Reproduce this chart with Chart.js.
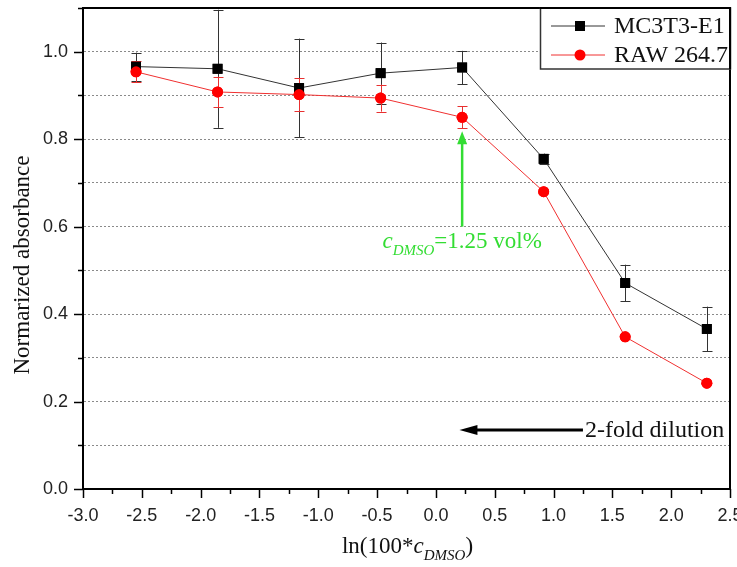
<!DOCTYPE html>
<html>
<head>
<meta charset="utf-8">
<script src="https://cdn.jsdelivr.net/npm/chart.js@4.4.1/dist/chart.umd.min.js"></script>
<style>
  html, body { margin: 0; padding: 0; background: #ffffff; }
  #wrap { width: 737px; height: 567px; }
</style>
</head>
<body>
<div id="wrap"><canvas id="absChart" width="737" height="567"></canvas></div>
<script>
// ln(100 * c_DMSO) for a 2-fold dilution series
const xValues = [-2.549, -1.856, -1.163, -0.470, 0.223, 0.916, 1.609, 2.303];

const mc3t3Values = [0.966, 0.961, 0.917, 0.951, 0.964, 0.755, 0.471, 0.366];
const mc3t3Errors = [0.032, 0.135, 0.113, 0.070, 0.038, 0.012, 0.042, 0.051];

const rawValues = [0.954, 0.908, 0.902, 0.894, 0.850, 0.680, 0.348, 0.242];
const rawErrors = [0.024, 0.035, 0.037, 0.031, 0.025, 0.006, 0.005, 0.004];

const seriesLabels = ["MC3T3-E1", "RAW 264.7"];

const xMajorStep = 0.5;
const yMajorStep = 0.2;

// annotation anchors (data units)
const markedX = 0.223;
const markedArrowFrom = 0.60;
const markedArrowTo = 0.818;
const markedTextY = 0.551;
const dilutionY = 0.135;
const dilutionFrom = 1.25;
const dilutionTo = 0.20;

const SERIF = "'Liberation Serif', 'DejaVu Serif', serif";
const SANS = "'Liberation Sans', Arial, sans-serif";

function isMultiple(v, step) {
    const r = v / step;
    return Math.abs(r - Math.round(r)) < 1e-6;
}

function toPoints(xs, ys) {
    return xs.map((x, i) => ({ x: x, y: ys[i] }));
}

// draws text pieces (normal / italic / subscript) centred on cx
function drawSubscripted(ctx, parts, cx, baseY, size) {
    const fonts = {
        normal: size + "px " + SERIF,
        italic: "italic " + size + "px " + SERIF,
        sub: "italic " + Math.round(size * 0.64) + "px " + SERIF
    };
    const widths = parts.map(p => {
        ctx.font = fonts[p.style];
        return ctx.measureText(p.text).width;
    });
    let x = cx - widths.reduce((a, b) => a + b, 0) / 2;
    ctx.textAlign = "left";
    ctx.textBaseline = "alphabetic";
    parts.forEach((p, i) => {
        ctx.font = fonts[p.style];
        ctx.fillText(p.text, x, p.style === "sub" ? baseY + size * 0.3 : baseY);
        x += widths[i];
    });
}

const decorPlugin = {
    id: "decor",
    afterDatasetsDraw(chart) {
        const ctx = chart.ctx;
        const xs = chart.scales.x;
        const ys = chart.scales.y;
        const area = chart.chartArea;

        // error bars
        const bars = [
            { values: mc3t3Values, errors: mc3t3Errors, color: "#333333" },
            { values: rawValues, errors: rawErrors, color: "#e83030" }
        ];
        ctx.save();
        ctx.lineWidth = 1;
        bars.forEach(set => {
            ctx.strokeStyle = set.color;
            set.values.forEach((v, i) => {
                if (set.errors[i] < 0.008) return;
                const px = Math.round(xs.getPixelForValue(xValues[i])) + 0.5;
                const top = Math.max(area.top, ys.getPixelForValue(v + set.errors[i]));
                const bot = ys.getPixelForValue(v - set.errors[i]);
                ctx.beginPath();
                ctx.moveTo(px, top);
                ctx.lineTo(px, bot);
                ctx.moveTo(px - 5, Math.round(top) + 0.5);
                ctx.lineTo(px + 5, Math.round(top) + 0.5);
                ctx.moveTo(px - 5, Math.round(bot) + 0.5);
                ctx.lineTo(px + 5, Math.round(bot) + 0.5);
                ctx.stroke();
            });
        });
        ctx.restore();

        // redraw markers on top of the bars
        chart.getSortedVisibleDatasetMetas().forEach(meta => {
            meta.data.forEach(el => el.draw(ctx, area));
        });
    },
    afterDraw(chart) {
        const ctx = chart.ctx;
        const xs = chart.scales.x;
        const ys = chart.scales.y;
        const area = chart.chartArea;

        ctx.save();
        ctx.setLineDash([]);

        // frame: left, bottom, top and right (solid)
        ctx.strokeStyle = "#000000";
        ctx.lineWidth = 2;
        ctx.strokeRect(area.left, area.top, area.right - area.left, area.bottom - area.top);

        // tick marks (outward), major and minor
        ctx.lineWidth = 1.5;
        ys.ticks.forEach(t => {
            const py = Math.round(ys.getPixelForValue(t.value)) + 0.5;
            const len = isMultiple(t.value, yMajorStep) ? 9 : 5;
            ctx.beginPath();
            ctx.moveTo(area.left - len, py);
            ctx.lineTo(area.left, py);
            ctx.stroke();
        });
        xs.ticks.forEach(t => {
            const px = Math.round(xs.getPixelForValue(t.value)) + 0.5;
            const len = isMultiple(t.value, xMajorStep) ? 9 : 5;
            ctx.beginPath();
            ctx.moveTo(px, area.bottom);
            ctx.lineTo(px, area.bottom + len);
            ctx.stroke();
        });

        // y axis title
        ctx.save();
        ctx.translate(23, 265);
        ctx.rotate(-Math.PI / 2);
        ctx.fillStyle = "#111111";
        ctx.font = "23px " + SERIF;
        ctx.textAlign = "center";
        ctx.textBaseline = "middle";
        ctx.fillText("Normarized absorbance", 0, 0);
        ctx.restore();

        // x axis title with subscript
        ctx.fillStyle = "#111111";
        drawSubscripted(ctx, [
            { text: "ln(100*", style: "normal" },
            { text: "c", style: "italic" },
            { text: "DMSO", style: "sub" },
            { text: ")", style: "normal" }
        ], (area.left + area.right) / 2 + 1, 553, 23);

        // green marker arrow + label
        const gx = xs.getPixelForValue(markedX);
        const gy0 = ys.getPixelForValue(markedArrowFrom);
        const gy1 = ys.getPixelForValue(markedArrowTo);
        ctx.strokeStyle = "#33dd33";
        ctx.fillStyle = "#33dd33";
        ctx.lineWidth = 2.5;
        ctx.beginPath();
        ctx.moveTo(gx, gy0);
        ctx.lineTo(gx, gy1 + 10);
        ctx.stroke();
        ctx.beginPath();
        ctx.moveTo(gx, gy1);
        ctx.lineTo(gx - 5, gy1 + 13);
        ctx.lineTo(gx + 5, gy1 + 13);
        ctx.closePath();
        ctx.fill();

        drawSubscripted(ctx, [
            { text: "c", style: "italic" },
            { text: "DMSO", style: "sub" },
            { text: "=1.25 vol%", style: "normal" }
        ], gx, ys.getPixelForValue(markedTextY), 23);

        // dilution arrow
        const dy = ys.getPixelForValue(dilutionY);
        const dx0 = xs.getPixelForValue(dilutionFrom);
        const dx1 = xs.getPixelForValue(dilutionTo);
        ctx.strokeStyle = "#000000";
        ctx.fillStyle = "#000000";
        ctx.lineWidth = 3;
        ctx.beginPath();
        ctx.moveTo(dx0, dy);
        ctx.lineTo(dx1 + 12, dy);
        ctx.stroke();
        ctx.beginPath();
        ctx.moveTo(dx1, dy);
        ctx.lineTo(dx1 + 18, dy - 5);
        ctx.lineTo(dx1 + 18, dy + 5);
        ctx.closePath();
        ctx.fill();
        ctx.fillStyle = "#111111";
        ctx.font = "24px " + SERIF;
        ctx.textAlign = "left";
        ctx.textBaseline = "middle";
        ctx.fillText("2-fold dilution", dx0 + 2, dy + 1);

        // legend box in the top right corner
        const lw = 190;
        const lx = area.right - lw;
        const ly = area.top;
        ctx.fillStyle = "#ffffff";
        ctx.fillRect(lx, ly, lw, 61);
        ctx.strokeStyle = "#333333";
        ctx.lineWidth = 1.5;
        ctx.strokeRect(lx + 0.5, ly, lw, 61);

        const metas = chart.getSortedVisibleDatasetMetas();
        metas.forEach((meta, i) => {
            const ds = chart.data.datasets[meta.index];
            const rowY = ly + 18 + i * 29;
            ctx.strokeStyle = ds.borderColor;
            ctx.lineWidth = 1;
            ctx.beginPath();
            ctx.moveTo(lx + 11, rowY);
            ctx.lineTo(lx + 65, rowY);
            ctx.stroke();
            ctx.fillStyle = ds.pointBackgroundColor;
            if (ds.pointStyle === "rect") {
                ctx.fillRect(lx + 40 - 5, rowY - 5, 10, 10);
            } else {
                ctx.beginPath();
                ctx.arc(lx + 40, rowY, 5.5, 0, Math.PI * 2);
                ctx.fill();
            }
            ctx.fillStyle = "#111111";
            ctx.font = "24px " + SERIF;
            ctx.textAlign = "left";
            ctx.textBaseline = "middle";
            ctx.fillText(ds.label, lx + 74, rowY + 1);
        });

        // redraw top/right frame over the legend edge
        ctx.strokeStyle = "#000000";
        ctx.lineWidth = 2;
        ctx.beginPath();
        ctx.moveTo(lx, area.top);
        ctx.lineTo(area.right, area.top);
        ctx.lineTo(area.right, area.top + 61);
        ctx.stroke();

        ctx.restore();
    }
};

const chart = new Chart(document.getElementById("absChart"), {
    type: "scatter",
    data: {
        datasets: [
            {
                label: seriesLabels[0],
                data: toPoints(xValues, mc3t3Values),
                showLine: true,
                borderColor: "#333333",
                borderWidth: 1,
                pointStyle: "rect",
                pointRadius: 7,
                pointBackgroundColor: "#000000",
                pointBorderColor: "#000000",
                pointBorderWidth: 0
            },
            {
                label: seriesLabels[1],
                data: toPoints(xValues, rawValues),
                showLine: true,
                borderColor: "#f03030",
                borderWidth: 1,
                pointStyle: "circle",
                pointRadius: 5.5,
                pointBackgroundColor: "#ff0000",
                pointBorderColor: "#ff0000",
                pointBorderWidth: 0
            }
        ]
    },
    options: {
        responsive: false,
        animation: false,
        layout: {
            padding: { left: 0, right: 5, top: 8, bottom: 0 }
        },
        plugins: {
            legend: { display: false },
            tooltip: { enabled: false }
        },
        scales: {
            x: {
                type: "linear",
                min: -3,
                max: 2.5,
                afterFit(scale) {
                    scale.height = 78;
                    scale.paddingLeft = 0;
                    scale.paddingRight = 0;
                },
                ticks: {
                    stepSize: 0.25,
                    autoSkip: false,
                    maxRotation: 0,
                    padding: 16,
                    color: "#222222",
                    font: { family: SANS, size: 18 },
                    callback: v => isMultiple(v, xMajorStep) ? v.toFixed(1) : ""
                },
                grid: {
                    display: true,
                    drawOnChartArea: false,
                    drawTicks: false
                },
                border: { color: "#000000", width: 2 }
            },
            y: {
                min: 0,
                max: 1.1,
                afterFit(scale) {
                    scale.width = 83;
                    scale.paddingTop = 0;
                    scale.paddingBottom = 0;
                },
                ticks: {
                    stepSize: 0.1,
                    autoSkip: false,
                    padding: 15,
                    color: "#222222",
                    font: { family: SANS, size: 18 },
                    callback: v => isMultiple(v, yMajorStep) ? v.toFixed(1) : ""
                },
                grid: {
                    drawTicks: false,
                    color: ctx => {
                        const v = ctx.tick.value;
                        return (v > 0.05 && v < 1.05) ? "#8a8a8a" : "rgba(0,0,0,0)";
                    },
                    lineWidth: 1
                },
                border: { color: "#000000", width: 2, dash: [2, 2] }
            }
        }
    },
    plugins: [decorPlugin]
});
</script>
</body>
</html>
